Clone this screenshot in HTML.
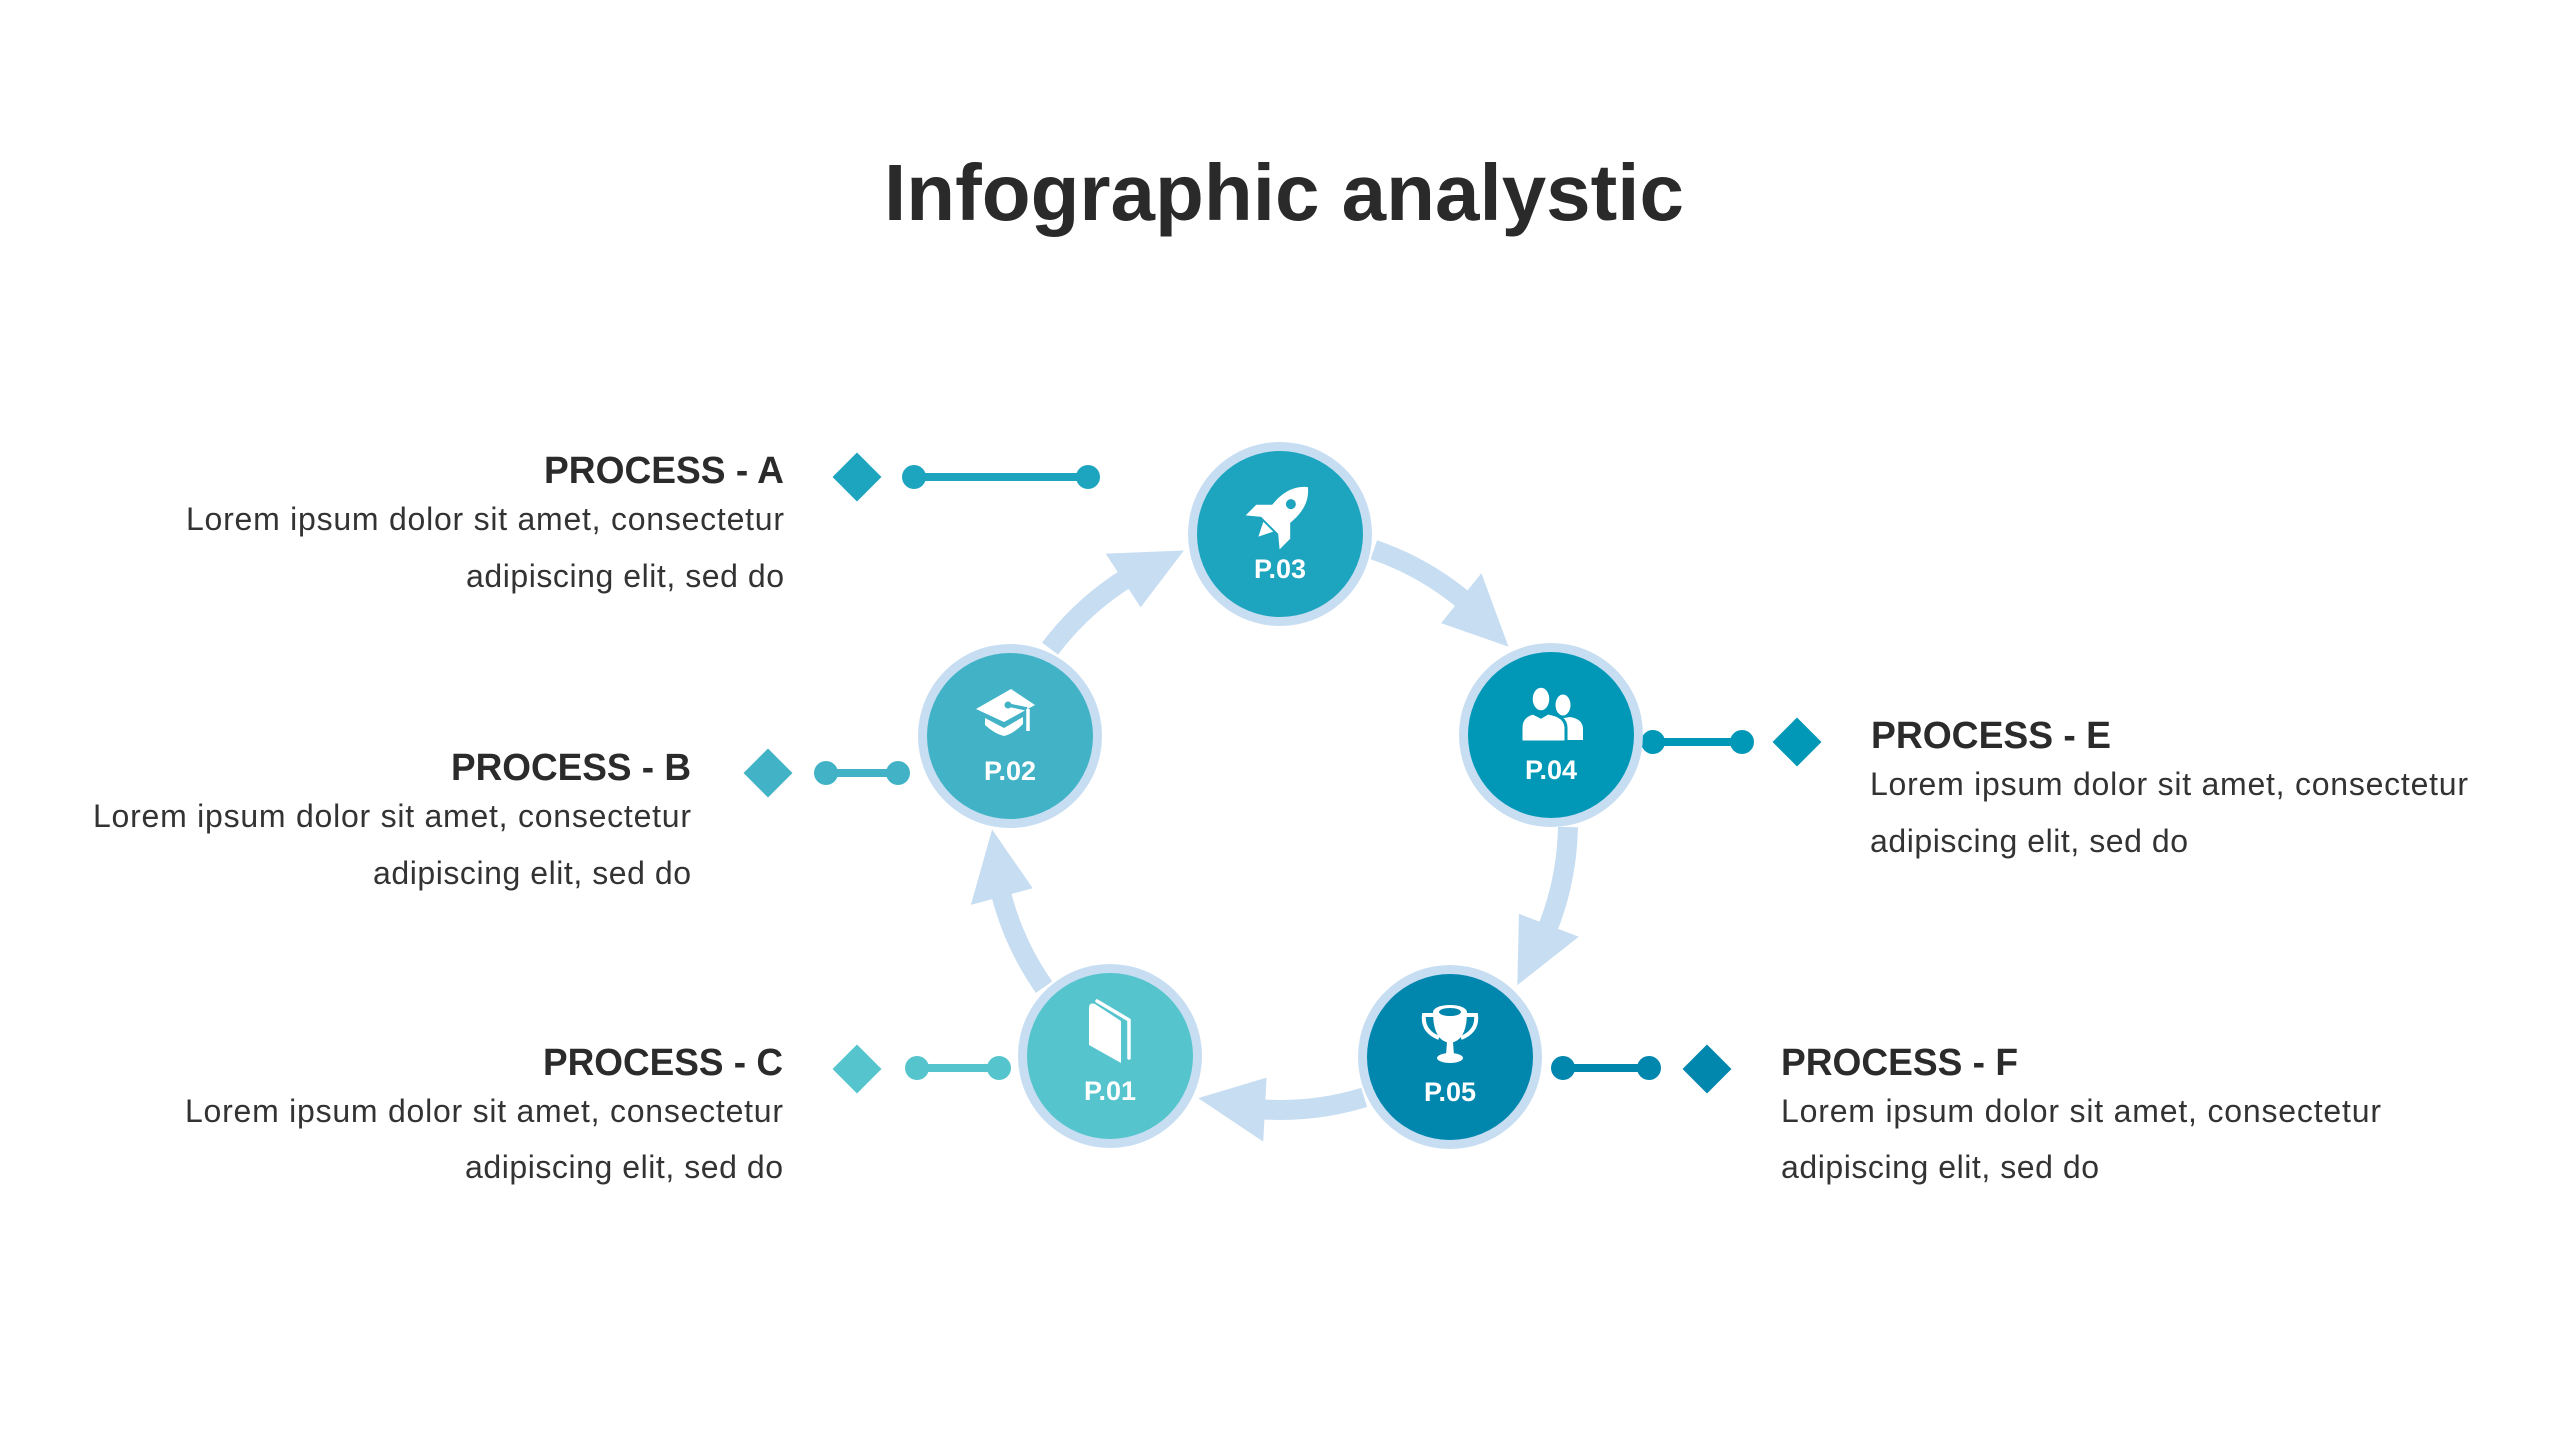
<!DOCTYPE html>
<html>
<head>
<meta charset="utf-8">
<style>
  html,body{margin:0;padding:0;background:#ffffff;}
  body{width:2560px;height:1440px;overflow:hidden;}
  svg{display:block;}
  .ttl{font-family:"Liberation Sans",Arial,sans-serif;font-weight:bold;fill:#2a2a2a;}
  .hd{font-family:"Liberation Sans",Arial,sans-serif;font-weight:bold;font-size:38px;fill:#2b2b2b;}
  .bd{font-family:"Liberation Sans",Arial,sans-serif;font-size:32px;fill:#333333;}
  .pl{font-family:"Liberation Sans",Arial,sans-serif;font-weight:bold;font-size:27px;fill:#ffffff;}
</style>
</head>
<body>
<svg width="2560" height="1440" viewBox="0 0 2560 1440" xmlns="http://www.w3.org/2000/svg">
  <rect width="2560" height="1440" fill="#ffffff"/>

  <!-- Title -->
  <text class="ttl" x="884" y="220" font-size="80" textLength="800" lengthAdjust="spacingAndGlyphs">Infographic analystic</text>

  <!-- Arrows (ring path center 1280,822 R=288) -->
  <g fill="#c6ddf2">
    <g>
      <path d="M1373.8,549.7 A288,288 0 0,1 1465.1,601.4" stroke="#c6ddf2" stroke-width="20" fill="none"/>
      <polygon points="1481.4,573.3 1508.5,646.7 1441.1,623.1"/>
    </g>
    <g transform="rotate(72 1280 822)">
      <path d="M1373.8,549.7 A288,288 0 0,1 1465.1,601.4" stroke="#c6ddf2" stroke-width="20" fill="none"/>
      <polygon points="1481.4,573.3 1508.5,646.7 1441.1,623.1"/>
    </g>
    <g transform="rotate(144 1280 822)">
      <path d="M1373.8,549.7 A288,288 0 0,1 1465.1,601.4" stroke="#c6ddf2" stroke-width="20" fill="none"/>
      <polygon points="1481.4,573.3 1508.5,646.7 1441.1,623.1"/>
    </g>
    <g transform="rotate(216 1280 822)">
      <path d="M1373.8,549.7 A288,288 0 0,1 1465.1,601.4" stroke="#c6ddf2" stroke-width="20" fill="none"/>
      <polygon points="1481.4,573.3 1508.5,646.7 1441.1,623.1"/>
    </g>
    <g transform="rotate(288 1280 822)">
      <path d="M1373.8,549.7 A288,288 0 0,1 1465.1,601.4" stroke="#c6ddf2" stroke-width="20" fill="none"/>
      <polygon points="1481.4,573.3 1508.5,646.7 1441.1,623.1"/>
    </g>
  </g>

  <!-- Connectors & diamonds -->
  <g fill="#1da4be" stroke="none">
    <rect x="839.7" y="459.7" width="34.6" height="34.6" transform="rotate(45 857 477)"/>
    <line x1="914" y1="477" x2="1088" y2="477" stroke="#1da4be" stroke-width="8"/>
    <circle cx="914" cy="477" r="12"/>
    <circle cx="1088" cy="477" r="12"/>
  </g>
  <g fill="#42b3c6">
    <rect x="750.7" y="755.7" width="34.6" height="34.6" transform="rotate(45 768 773)"/>
    <line x1="826" y1="773" x2="898" y2="773" stroke="#42b3c6" stroke-width="8"/>
    <circle cx="826" cy="773" r="12"/>
    <circle cx="898" cy="773" r="12"/>
  </g>
  <g fill="#55c4cd">
    <rect x="839.7" y="1051.7" width="34.6" height="34.6" transform="rotate(45 857 1069)"/>
    <line x1="917" y1="1068" x2="999" y2="1068" stroke="#55c4cd" stroke-width="8"/>
    <circle cx="917" cy="1068" r="12"/>
    <circle cx="999" cy="1068" r="12"/>
  </g>
  <g fill="#0198b7">
    <rect x="1779.7" y="724.7" width="34.6" height="34.6" transform="rotate(45 1797 742)"/>
    <line x1="1653" y1="742" x2="1742" y2="742" stroke="#0198b7" stroke-width="8"/>
    <circle cx="1653" cy="742" r="12"/>
    <circle cx="1742" cy="742" r="12"/>
  </g>
  <g fill="#0186ad">
    <rect x="1689.7" y="1051.7" width="34.6" height="34.6" transform="rotate(45 1707 1069)"/>
    <line x1="1563" y1="1068" x2="1649" y2="1068" stroke="#0186ad" stroke-width="8"/>
    <circle cx="1563" cy="1068" r="12"/>
    <circle cx="1649" cy="1068" r="12"/>
  </g>

  <!-- Circles -->
  <g>
    <circle cx="1280" cy="534" r="92" fill="#c6ddf2"/>
    <circle cx="1280" cy="534" r="83" fill="#1da4be"/>
    <g transform="translate(1281 514) rotate(45)" fill="#ffffff">
      <path d="M0,-38 C10,-30 14,-18 13,-4 L12,16 L-12,16 L-13,-4 C-14,-18 -10,-30 0,-38 Z"/>
      <path d="M-12,-1 L-24,11 L-24,26 L-12,16 Z"/>
      <path d="M12,-1 L24,11 L24,26 L12,16 Z"/>
      <path d="M-7,18 L0,32 L7,18 Z"/>
      <circle cx="0" cy="-14" r="5" fill="#1da4be"/>
    </g>
    <text class="pl" x="1280" y="578" text-anchor="middle">P.03</text>
  </g>
  <g>
    <circle cx="1010" cy="736" r="92" fill="#c6ddf2"/>
    <circle cx="1010" cy="736" r="83" fill="#42b3c6"/>
    <g transform="translate(1005 712)" fill="#ffffff">
      <path d="M-20,6 L-1,16 L18,5 L18,12 Q8,22 -1,24 Q-10,22 -20,13 Z"/>
      <polygon points="-29,-3 6,-23 30,-7 -1,10"/>
      <path d="M3,-7 L22,-3" stroke="#42b3c6" stroke-width="3.5" fill="none"/>
      <path d="M23,-3 L23,19" stroke="#ffffff" stroke-width="3.5" fill="none"/>
      <circle cx="3" cy="-7" r="3.5" fill="#42b3c6"/>
    </g>
    <text class="pl" x="1010" y="780" text-anchor="middle">P.02</text>
  </g>
  <g>
    <circle cx="1551" cy="735" r="92" fill="#c6ddf2"/>
    <circle cx="1551" cy="735" r="83" fill="#0198b7"/>
    <g transform="translate(1552 714)" fill="#ffffff">
      <ellipse cx="11" cy="-9" rx="7.5" ry="10.5"/>
      <path d="M10,26 V14 Q10,5 6,3 L12,4 L18,3 Q31,5 31,15 V26 Z"/>
      <path d="M-31,28 V14 Q-31,2 -19,-1 L-11,3 L-4,-1 Q14,2 14,14 V28 Z" stroke="#0198b7" stroke-width="3"/>
      <ellipse cx="-11" cy="-15" rx="9.5" ry="12.5" stroke="#0198b7" stroke-width="2.5"/>
    </g>
    <text class="pl" x="1551" y="779" text-anchor="middle">P.04</text>
  </g>
  <g>
    <circle cx="1110" cy="1056" r="92" fill="#c6ddf2"/>
    <circle cx="1110" cy="1056" r="83" fill="#55c4cd"/>
    <g transform="translate(1110 1033)" fill="#ffffff">
      <path d="M-21,-25 Q-21,-31 -15,-29 L11,-12 L11,30 L-21,12 Z"/>
      <path d="M-13,-32 L19,-13 L19,25" stroke="#ffffff" stroke-width="3.5" fill="none" stroke-linecap="round" stroke-linejoin="round"/>
    </g>
    <text class="pl" x="1110" y="1100" text-anchor="middle">P.01</text>
  </g>
  <g>
    <circle cx="1450" cy="1057" r="92" fill="#c6ddf2"/>
    <circle cx="1450" cy="1057" r="83" fill="#0186ad"/>
    <g transform="translate(1450 1035)" fill="#ffffff">
      <path d="M-15,-20 H-26 Q-28,-4 -11,3" stroke="#ffffff" stroke-width="4" fill="none"/>
      <path d="M15,-20 H26 Q28,-4 11,3" stroke="#ffffff" stroke-width="4" fill="none"/>
      <path d="M-17,-23 H17 Q17,6 0,8 Q-17,6 -17,-23 Z"/>
      <ellipse cx="0" cy="-23" rx="17" ry="7"/>
      <ellipse cx="0" cy="-23" rx="11" ry="4" fill="#0186ad"/>
      <path d="M-3,7 L3,7 L4,20 L-4,20 Z"/>
      <ellipse cx="0" cy="23" rx="13" ry="5"/>
    </g>
    <text class="pl" x="1450" y="1101" text-anchor="middle">P.05</text>
  </g>

  <!-- Text blocks -->
  <text class="hd" x="544" y="483" textLength="240" lengthAdjust="spacingAndGlyphs">PROCESS - A</text>
  <text class="bd" x="186" y="530" textLength="598" lengthAdjust="spacing">Lorem ipsum dolor sit amet, consectetur</text>
  <text class="bd" x="466" y="587" textLength="318" lengthAdjust="spacing">adipiscing elit, sed do</text>

  <text class="hd" x="451" y="780" textLength="240" lengthAdjust="spacingAndGlyphs">PROCESS - B</text>
  <text class="bd" x="93" y="827" textLength="598" lengthAdjust="spacing">Lorem ipsum dolor sit amet, consectetur</text>
  <text class="bd" x="373" y="884" textLength="318" lengthAdjust="spacing">adipiscing elit, sed do</text>

  <text class="hd" x="543" y="1075" textLength="240" lengthAdjust="spacingAndGlyphs">PROCESS - C</text>
  <text class="bd" x="185" y="1122" textLength="598" lengthAdjust="spacing">Lorem ipsum dolor sit amet, consectetur</text>
  <text class="bd" x="465" y="1178" textLength="318" lengthAdjust="spacing">adipiscing elit, sed do</text>

  <text class="hd" x="1871" y="748" textLength="240" lengthAdjust="spacingAndGlyphs">PROCESS - E</text>
  <text class="bd" x="1870" y="795" textLength="598" lengthAdjust="spacing">Lorem ipsum dolor sit amet, consectetur</text>
  <text class="bd" x="1870" y="852" textLength="318" lengthAdjust="spacing">adipiscing elit, sed do</text>

  <text class="hd" x="1781" y="1075" textLength="237" lengthAdjust="spacingAndGlyphs">PROCESS - F</text>
  <text class="bd" x="1781" y="1122" textLength="600" lengthAdjust="spacing">Lorem ipsum dolor sit amet, consectetur</text>
  <text class="bd" x="1781" y="1178" textLength="318" lengthAdjust="spacing">adipiscing elit, sed do</text>
</svg>
</body>
</html>
